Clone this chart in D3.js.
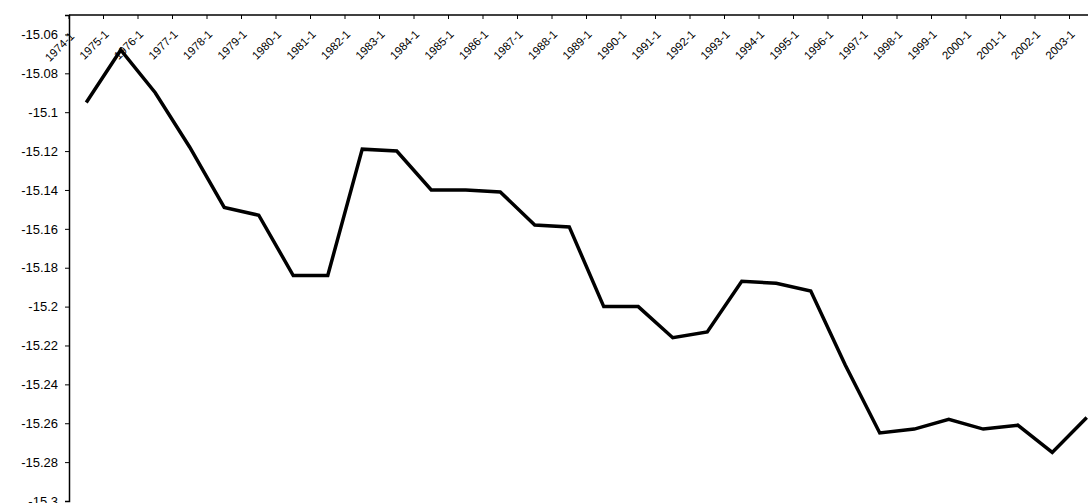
<!DOCTYPE html>
<html><head><meta charset="utf-8">
<script src="https://cdn.jsdelivr.net/npm/d3@7"></script>
<style>body{margin:0;background:#fff}svg{display:block}text{font-family:Arial,"Liberation Sans",sans-serif}</style>
</head><body>
<script>
const years = d3.range(1974, 2004).map(y => y + "-1");
const values = [-15.095, -15.068, -15.090, -15.118, -15.149, -15.153, -15.184, -15.184, -15.119, -15.120,
  -15.140, -15.140, -15.141, -15.158, -15.159, -15.200, -15.200, -15.216, -15.213, -15.187,
  -15.188, -15.192, -15.230, -15.265, -15.263, -15.258, -15.263, -15.261, -15.275, -15.257];
const yTicks = d3.range(0, 13).map(i => -15.06 - i * 0.02);

const svg = d3.select("body").append("svg").attr("width", 1088).attr("height", 503);

const x = d3.scaleBand().domain(years).range([69, 1104]);
const y = d3.scaleLinear().domain([-15.3, -15.05]).range([501, 15]);

// y axis
const ya = svg.append("g").attr("transform", "translate(69,0)")
  .call(d3.axisLeft(y).tickValues(yTicks).tickSize(4).tickFormat(d => +d.toFixed(2)));
ya.select(".domain").attr("stroke", "#000").attr("stroke-width", 1.5);
ya.selectAll("text").attr("font-size", 13).attr("fill", "#000").attr("dx", -4);

// x axis at top
const xa = svg.append("g").attr("transform", "translate(0,15)");
xa.append("line").attr("x1", 69).attr("x2", 1104).attr("stroke", "#000").attr("stroke-width", 1.5);
xa.selectAll(".tk").data(years).enter().append("line")
  .attr("x1", d => x(d)).attr("x2", d => x(d)).attr("y1", 0).attr("y2", 4).attr("stroke", "#000");
xa.selectAll(".lb").data(years).enter().append("text")
  .attr("transform", d => `translate(${x(d) + 6},${d === "1974-1" ? 22 : 20}) rotate(-45)`)
  .attr("text-anchor", "end").attr("font-size", 11.5).attr("fill", "#000").text(d => d);

// line
const line = d3.line().x((d, i) => x(years[i]) + x.bandwidth() / 2).y(d => y(d));
svg.append("path").datum(values).attr("d", line)
  .attr("fill", "none").attr("stroke", "#000").attr("stroke-width", 3.5).attr("stroke-linejoin", "miter");
</script>
</body></html>
